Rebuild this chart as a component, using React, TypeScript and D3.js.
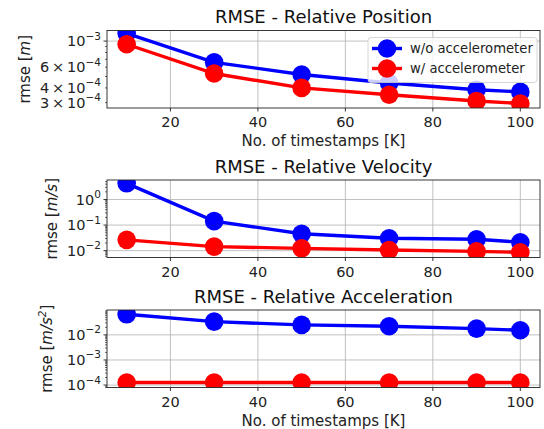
import React, { useEffect, useRef } from 'react';
import * as d3 from 'd3';

const timestamps = [10, 30, 50, 70, 90, 100];
const posWithout = [1.165e-3, 6.6e-4, 5.2e-4, 4.4e-4, 3.86e-4, 3.7e-4];
const posWith = [9.4e-4, 5.3e-4, 4.0e-4, 3.5e-4, 3.1e-4, 2.95e-4];
const velWithout = [4.3, 0.143, 0.0457, 0.0306, 0.028, 0.0213];
const velWith = [0.0265, 0.0144, 0.0123, 0.0106, 0.0094, 0.0086];
const accWithout = [0.066, 0.0337, 0.025, 0.022, 0.0178, 0.0153];
const accWith = [1.27e-4, 1.27e-4, 1.27e-4, 1.27e-4, 1.27e-4, 1.27e-4];
const xTicks = [20, 40, 60, 80, 100];
const legendLabels = ['w/o accelerometer', 'w/ accelerometer'];
const titles = ['RMSE - Relative Position', 'RMSE - Relative Velocity', 'RMSE - Relative Acceleration'];

const FONT = 'DejaVu Sans, sans-serif';
const BLUE = '#0000ff';
const RED = '#ff0000';

// mant is null for a plain power of ten
type YTick = { v: number; mant: string | null; exp: number };

const panels = [
  {
    top: 30.5, bottom: 108, domain: [2.7e-4, 1.23e-3],
    series: [posWithout, posWith],
    yTicks: [
      { v: 1e-3, mant: null, exp: -3 },
      { v: 6e-4, mant: '6', exp: -4 },
      { v: 4e-4, mant: '4', exp: -4 },
      { v: 3e-4, mant: '3', exp: -4 },
    ] as YTick[],
    majors: [1e-3],
    ylabel: ['m'], ylabelX: 25, xlabel: true, legend: true,
  },
  {
    top: 180, bottom: 257.5, domain: [5.4e-3, 5.8],
    series: [velWithout, velWith],
    yTicks: [
      { v: 1, mant: null, exp: 0 },
      { v: 0.1, mant: null, exp: -1 },
      { v: 0.01, mant: null, exp: -2 },
    ] as YTick[],
    majors: [1, 0.1, 0.01],
    ylabel: ['m/s'], ylabelX: 52, xlabel: false, legend: false,
  },
  {
    top: 310, bottom: 387.5, domain: [8.0e-5, 0.098],
    series: [accWithout, accWith],
    yTicks: [
      { v: 1e-2, mant: null, exp: -2 },
      { v: 1e-3, mant: null, exp: -3 },
      { v: 1e-4, mant: null, exp: -4 },
    ] as YTick[],
    majors: [1e-2, 1e-3, 1e-4],
    ylabel: ['m/s', '2'], ylabelX: 47, xlabel: true, legend: false,
  },
];

const left = 107;
const right = 540;

const App = () => {
  const ref = useRef<SVGSVGElement>(null);

  useEffect(() => {
    const svg = d3.select(ref.current);
    svg.selectAll('*').remove();

    const x = d3.scaleLinear().domain([5.5, 104.5]).range([left, right]);
    const colors = [BLUE, RED];

    panels.forEach((p, pi) => {
      const y = d3.scaleLog().domain(p.domain).range([p.bottom, p.top]);
      const g = svg.append('g');

      // grid
      xTicks.forEach(t => {
        g.append('line').attr('x1', x(t)).attr('x2', x(t)).attr('y1', p.top).attr('y2', p.bottom)
          .attr('stroke', '#b0b0b0').attr('stroke-width', 0.8);
      });
      p.majors.forEach(t => {
        g.append('line').attr('x1', left).attr('x2', right).attr('y1', y(t)).attr('y2', y(t))
          .attr('stroke', '#b0b0b0').attr('stroke-width', 0.8);
      });

      // minor ticks on log axis
      const lo = Math.floor(Math.log10(p.domain[0]));
      const hi = Math.ceil(Math.log10(p.domain[1]));
      for (let e = lo; e <= hi; e++) {
        for (let m = 2; m <= 9; m++) {
          const v = m * Math.pow(10, e);
          if (v < p.domain[0] || v > p.domain[1]) continue;
          g.append('line').attr('x1', left).attr('x2', left - 2).attr('y1', y(v)).attr('y2', y(v))
            .attr('stroke', '#000').attr('stroke-width', 0.6);
        }
      }
      p.majors.forEach(t => {
        g.append('line').attr('x1', left).attr('x2', left - 3.5).attr('y1', y(t)).attr('y2', y(t))
          .attr('stroke', '#000').attr('stroke-width', 0.8);
      });

      // y tick labels
      p.yTicks.forEach(t => {
        const txt = g.append('text').attr('x', left - 6).attr('y', y(t.v) + 5)
          .attr('text-anchor', 'end').attr('font-family', FONT).attr('font-size', 14.5).attr('fill', '#222');
        if (t.mant) txt.append('tspan').text(t.mant + '\u2009\u00d7\u200910');
        else txt.append('tspan').text('10');
        txt.append('tspan').attr('dy', -6.5).attr('font-size', 10.5)
          .text(t.exp === 0 ? '0' : '\u2212' + Math.abs(t.exp));
      });

      // x ticks
      xTicks.forEach(t => {
        g.append('line').attr('x1', x(t)).attr('x2', x(t)).attr('y1', p.bottom).attr('y2', p.bottom + 3.5)
          .attr('stroke', '#000').attr('stroke-width', 0.8);
        g.append('text').attr('x', x(t)).attr('y', p.bottom + 19).attr('text-anchor', 'middle')
          .attr('font-family', FONT).attr('font-size', 14.5).attr('fill', '#222').text(t);
      });

      // lines and markers
      const clipId = 'clip' + pi;
      svg.append('clipPath').attr('id', clipId).append('rect')
        .attr('x', left - 12).attr('y', p.top).attr('width', right - left + 24).attr('height', p.bottom - p.top);
      const cg = g.append('g').attr('clip-path', `url(#${clipId})`);
      p.series.forEach((s, si) => {
        const line = d3.line<number>().x((_, i) => x(timestamps[i])).y(d => y(d));
        cg.append('path').attr('d', line(s)).attr('fill', 'none')
          .attr('stroke', colors[si]).attr('stroke-width', 3.4);
        s.forEach((v, i) => {
          cg.append('circle').attr('cx', x(timestamps[i])).attr('cy', y(v)).attr('r', 9.3)
            .attr('fill', colors[si]);
        });
      });

      // frame
      g.append('rect').attr('x', left).attr('y', p.top).attr('width', right - left).attr('height', p.bottom - p.top)
        .attr('fill', 'none').attr('stroke', '#222').attr('stroke-width', 0.9);

      // title
      g.append('text').attr('x', (left + right) / 2).attr('y', p.top - 7.5).attr('text-anchor', 'middle')
        .attr('font-family', FONT).attr('font-size', 18).attr('fill', '#111').text(titles[pi]);

      // x label
      if (p.xlabel) {
        g.append('text').attr('x', (left + right) / 2).attr('y', p.bottom + 38).attr('text-anchor', 'middle')
          .attr('font-family', FONT).attr('font-size', 15).attr('fill', '#222').text('No. of timestamps [K]');
      }

      // y label
      const cy = (p.top + p.bottom) / 2;
      const yl = g.append('text').attr('transform', `translate(${p.ylabelX + 5},${cy}) rotate(-90)`)
        .attr('text-anchor', 'middle').attr('font-family', FONT).attr('font-size', 15).attr('fill', '#222');
      yl.append('tspan').text('rmse [');
      yl.append('tspan').attr('font-style', 'italic').text(p.ylabel[0]);
      if (p.ylabel[1]) {
        yl.append('tspan').attr('dy', -6).attr('font-size', 10.5).attr('font-style', 'italic').text(p.ylabel[1]);
        yl.append('tspan').attr('dy', 6).text(']');
      } else {
        yl.append('tspan').text(']');
      }

      // legend
      if (p.legend) {
        const lg = g.append('g');
        lg.append('rect').attr('x', 368).attr('y', 37.5).attr('width', 169).attr('height', 45).attr('rx', 3)
          .attr('fill', 'rgba(255,255,255,0.8)').attr('stroke', '#cccccc').attr('stroke-width', 0.8);
        legendLabels.forEach((lab, li) => {
          const ly = 48.5 + li * 20;
          lg.append('line').attr('x1', 372).attr('x2', 402).attr('y1', ly).attr('y2', ly)
            .attr('stroke', colors[li]).attr('stroke-width', 3.4);
          lg.append('circle').attr('cx', 387).attr('cy', ly).attr('r', 9.3).attr('fill', colors[li]);
          lg.append('text').attr('x', 410).attr('y', ly + 4.7).attr('font-family', FONT).attr('font-size', 13.2)
            .attr('fill', '#222').text(lab);
        });
      }
    });
  }, []);

  return (
    <svg ref={ref} width={544} height={429}
      style={{ position: 'absolute', left: 0, top: 0, background: '#fff' }} />
  );
};

export default App;
